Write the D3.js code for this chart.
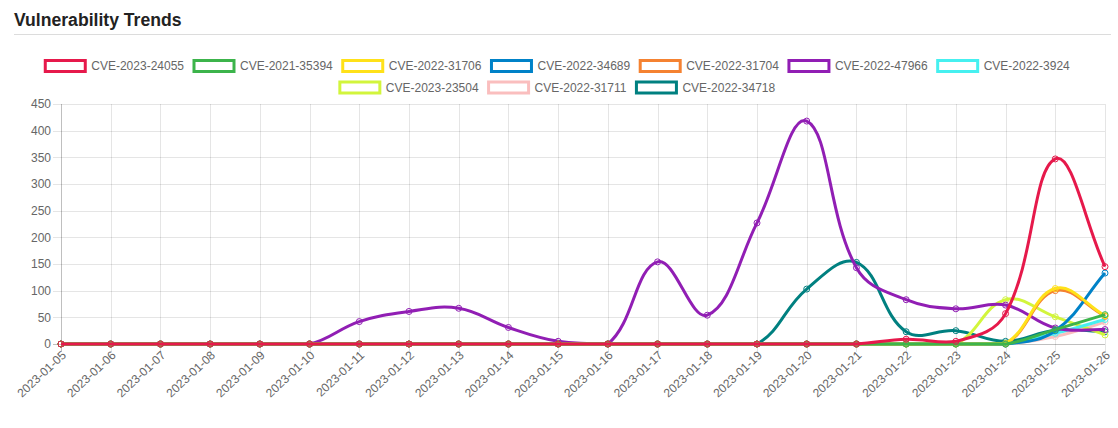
<!DOCTYPE html>
<html>
<head>
<meta charset="utf-8">
<script src="https://cdn.jsdelivr.net/npm/d3@7"></script>
<style>
  html, body { margin: 0; padding: 0; background: #fff; }
  svg { display: block; font-family: "Liberation Sans", Arial, Helvetica, sans-serif; }
</style>
</head>
<body>
<svg id="chart" width="1118" height="428"></svg>
<script>
// ---- Data ----
const dates = ["2023-01-05","2023-01-06","2023-01-07","2023-01-08","2023-01-09","2023-01-10","2023-01-11",
  "2023-01-12","2023-01-13","2023-01-14","2023-01-15","2023-01-16","2023-01-17","2023-01-18","2023-01-19",
  "2023-01-20","2023-01-21","2023-01-22","2023-01-23","2023-01-24","2023-01-25","2023-01-26"];
const seriesNames = ["CVE-2023-24055","CVE-2021-35394","CVE-2022-31706","CVE-2022-34689","CVE-2022-31704",
  "CVE-2022-47966","CVE-2022-3924","CVE-2023-23504","CVE-2022-31711","CVE-2022-34718"];
const seriesColors = ["#e6194b","#3cb44b","#ffe119","#0082c8","#f58231","#911eb4","#46f0f0","#d2f53c","#fabebe","#008080"];
const cve202324055 = [0,0,0,0,0,0,0,0,0,0,0,0,0,0,0,0,0,9,5,57,347,145];
const cve202135394 = [0,0,0,0,0,0,0,0,0,0,0,0,0,0,0,0,0,0,0,0,27,55];
const cve202231706 = [0,0,0,0,0,0,0,0,0,0,0,0,0,0,0,0,0,0,0,1,104,53];
const cve202234689 = [0,0,0,0,0,0,0,0,0,0,0,0,0,0,0,0,0,0,0,0,25,133];
const cve202231704 = [0,0,0,0,0,0,0,0,0,0,0,0,0,0,0,0,0,0,0,0,100,52];
const cve202247966 = [0,0,0,0,0,0,42,61,67,31,5,0,154,54,227,418,143,83,66,73,30,27];
const cve20223924  = [0,0,0,0,0,0,0,0,0,0,0,0,0,0,0,0,0,0,0,0,20,46];
const cve202323504 = [0,0,0,0,0,0,0,0,0,0,0,0,0,0,0,0,0,0,0,83,51,17];
const cve202231711 = [0,0,0,0,0,0,0,0,0,0,0,0,0,0,0,0,0,0,0,0,14,41];
const cve202234718 = [0,0,0,0,0,0,0,0,0,0,0,0,0,0,0,103,153,23,25,5,26,23];
const seriesValues = [cve202324055,cve202135394,cve202231706,cve202234689,cve202231704,
  cve202247966,cve20223924,cve202323504,cve202231711,cve202234718];
const yTicks = [0,50,100,150,200,250,300,350,400,450];
const titleText = "Vulnerability Trends";

// ---- Layout ----
const svg = d3.select("#chart");
const area = { left: 61, right: 1105, top: 104, bottom: 344 };
const x = d3.scalePoint().domain(dates).range([area.left, area.right]);
const y = d3.scaleLinear().domain([0, 450]).range([area.bottom, area.top]);

// Title
svg.append("text").attr("x", 14).attr("y", 25.5)
  .attr("font-size", "17.6px").attr("font-weight", "bold").attr("fill", "#222")
  .text(titleText);
svg.append("line").attr("x1", 14).attr("x2", 1111).attr("y1", 34.5).attr("y2", 34.5)
  .attr("stroke", "#dcdcdc").attr("stroke-width", 1);

// Grid: horizontal
const grid = svg.append("g");
yTicks.forEach(t => {
  const yy = Math.round(y(t)) + 0.5;
  grid.append("line").attr("x1", area.left - 8).attr("x2", area.right).attr("y1", yy).attr("y2", yy)
    .attr("stroke", t === 0 ? "rgba(0,0,0,0.25)" : "rgba(0,0,0,0.1)").attr("stroke-width", 1);
});
// Grid: vertical
dates.forEach((d, i) => {
  const xx = Math.round(x(d)) + 0.5;
  grid.append("line").attr("x1", xx).attr("x2", xx).attr("y1", area.top).attr("y2", area.bottom + 8)
    .attr("stroke", i === 0 ? "rgba(0,0,0,0.25)" : "rgba(0,0,0,0.1)").attr("stroke-width", 1);
});

// Y axis labels
const yAxis = d3.axisLeft(y).tickValues(yTicks).tickSize(0).tickPadding(10);
const gy = svg.append("g").attr("transform", `translate(${area.left},0)`).call(yAxis);
gy.select(".domain").remove();
gy.selectAll("text").attr("font-size", "12px").attr("fill", "#666").attr("font-family", "Liberation Sans, Arial, sans-serif");

// X axis labels (rotated)
const gx = svg.append("g");
dates.forEach(d => {
  gx.append("text")
    .attr("transform", `translate(${x(d) + 3},${area.bottom + 9}) rotate(-43)`)
    .attr("text-anchor", "end").attr("dy", "0.35em")
    .attr("font-size", "12px").attr("fill", "#666")
    .text(d);
});

// Chart.js-style spline curve (tension 0.4, capped to chart area)
function chartjsCurve(context) {
  return {
    areaStart() {}, areaEnd() {},
    lineStart() { this.pts = []; },
    point(px, py) { this.pts.push({ x: +px, y: +py }); },
    lineEnd() {
      const p = this.pts, n = p.length, t = 0.4;
      const cps = p.map((cur, i) => {
        const prev = i > 0 ? p[i - 1] : cur;
        const next = i < n - 1 ? p[i + 1] : cur;
        const d01 = Math.hypot(cur.x - prev.x, cur.y - prev.y);
        const d12 = Math.hypot(next.x - cur.x, next.y - cur.y);
        let s01 = d01 / (d01 + d12), s12 = d12 / (d01 + d12);
        if (isNaN(s01)) s01 = 0; if (isNaN(s12)) s12 = 0;
        const fa = t * s01, fb = t * s12;
        const clampY = v => Math.max(area.top, Math.min(area.bottom, v));
        const clampX = v => Math.max(area.left, Math.min(area.right, v));
        return {
          px: clampX(cur.x - fa * (next.x - prev.x)), py: clampY(cur.y - fa * (next.y - prev.y)),
          nx: clampX(cur.x + fb * (next.x - prev.x)), ny: clampY(cur.y + fb * (next.y - prev.y))
        };
      });
      context.moveTo(p[0].x, p[0].y);
      for (let i = 1; i < n; i++) {
        context.bezierCurveTo(cps[i - 1].nx, cps[i - 1].ny, cps[i].px, cps[i].py, p[i].x, p[i].y);
      }
    }
  };
}

const line = d3.line().x((v, i) => x(dates[i])).y(v => y(v)).curve(chartjsCurve);

// Draw datasets in reverse order (first dataset on top)
const plot = svg.append("g");
for (let s = seriesNames.length - 1; s >= 0; s--) {
  const vals = seriesValues[s];
  plot.append("path").attr("d", line(vals)).attr("fill", "none")
    .attr("stroke", seriesColors[s]).attr("stroke-width", 3)
    .attr("stroke-linejoin", "round").attr("stroke-linecap", "butt");
  plot.selectAll(null).data(vals).enter().append("circle")
    .attr("cx", (v, i) => x(dates[i])).attr("cy", v => y(v)).attr("r", 3)
    .attr("fill", "none").attr("stroke", seriesColors[s]).attr("stroke-width", 1);
}

// Legend (Chart.js-like layout, centred rows)
const legend = svg.append("g");
const boxW = 40, fontSize = 12, pad = 10, maxW = 1098, cx = 561;
const measure = legend.append("text").attr("font-size", "12px");
const widths = seriesNames.map(nm => { measure.text(nm); return boxW + fontSize / 2 + measure.node().getComputedTextLength() + pad; });
measure.remove();
const rows = [[]]; let rw = 0;
widths.forEach((w, i) => {
  if (rw + w > maxW && rows[rows.length - 1].length) { rows.push([]); rw = 0; }
  rows[rows.length - 1].push(i); rw += w;
});
rows.forEach((row, r) => {
  const total = d3.sum(row, i => widths[i]);
  let cursor = cx - total / 2;
  const boxY = 60.5 + r * 21.5;
  row.forEach(i => {
    legend.append("rect").attr("x", cursor + 1.5).attr("y", boxY).attr("width", boxW).attr("height", 11)
      .attr("fill", "#fff").attr("stroke", seriesColors[i]).attr("stroke-width", 3);
    legend.append("text").attr("x", cursor + 1.5 + boxW + fontSize / 2).attr("y", boxY + 5.5)
      .attr("dy", "0.35em").attr("font-size", "12px").attr("fill", "#666").text(seriesNames[i]);
    cursor += widths[i];
  });
});
</script>
</body>
</html>
